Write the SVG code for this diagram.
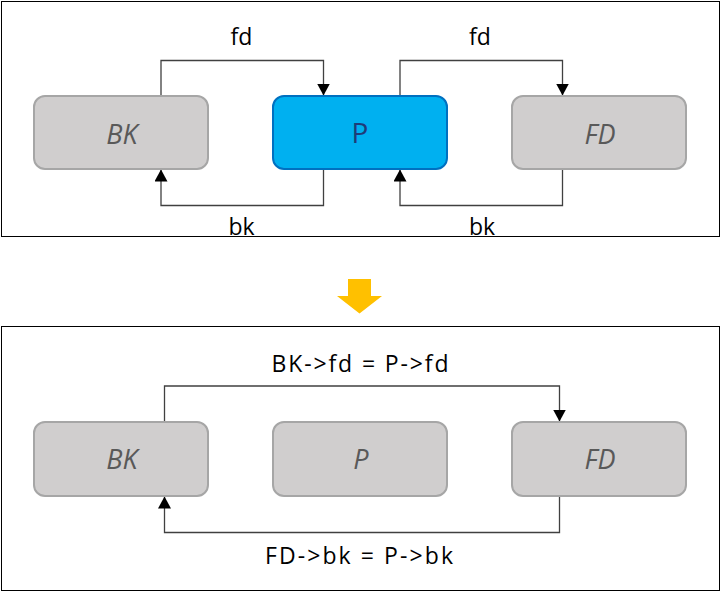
<svg xmlns="http://www.w3.org/2000/svg" width="722" height="592" viewBox="0 0 722 592">
<defs>
<style>
.frame{fill:#fff;stroke:#000;stroke-width:1}
.node{fill:#d0cece;stroke:#a6a6a6;stroke-width:2}
.pnode{fill:#00b0f0;stroke:#0070c0;stroke-width:2}
.nt{font-family:"Open Sans","Noto Sans",sans-serif;font-size:27px;font-style:italic;fill:#595959;text-anchor:middle}
.pt{font-family:"Open Sans","Noto Sans",sans-serif;font-size:28px;fill:#1f3b78;text-anchor:middle}
.lbl{font-family:"Open Sans","Noto Sans",sans-serif;font-size:23px;fill:#000;text-anchor:middle}
.conn{fill:none;stroke:#404040;stroke-width:1.3}
</style>
<marker id="ah" viewBox="0 0 12 13" markerWidth="12" markerHeight="13" refX="11.5" refY="6.5" orient="auto" markerUnits="userSpaceOnUse">
<path d="M0,0 L12,6.5 L0,13 Z" fill="#000"/>
</marker>
</defs>
<rect width="722" height="592" fill="#fff"/>
<rect class="frame" x="1.5" y="1.5" width="718" height="235"/>
<rect class="frame" x="1.5" y="326.5" width="718" height="264"/>
<g id="connectors">
<path class="conn" d="M161,96 V60.5 H323.5 V95" marker-end="url(#ah)"/>
<path class="conn" d="M323.5,169 V205.5 H161 V170" marker-end="url(#ah)"/>
<path class="conn" d="M400,96 V60.5 H562.5 V95" marker-end="url(#ah)"/>
<path class="conn" d="M562.5,169 V205.5 H400 V170" marker-end="url(#ah)"/>
<path class="conn" d="M164.5,422 V386 H559.5 V421" marker-end="url(#ah)"/>
<path class="conn" d="M559.5,496 V532.5 H164.5 V497" marker-end="url(#ah)"/>
</g>
<g id="labels">
<text class="lbl" x="241.5" y="45">fd</text>
<text class="lbl" x="241.5" y="235">bk</text>
<text class="lbl" x="480" y="45">fd</text>
<text class="lbl" x="482" y="235">bk</text>
<text class="lbl" x="360" y="372" textLength="177" lengthAdjust="spacing">BK-&gt;fd = P-&gt;fd</text>
<text class="lbl" x="359" y="564" textLength="188" lengthAdjust="spacing">FD-&gt;bk = P-&gt;bk</text>
</g>
<g id="top-BK"><rect class="node" x="34" y="96" width="174" height="73" rx="11"/><text class="nt" x="122" y="144">BK</text></g>
<g id="top-P"><rect class="pnode" x="273" y="96" width="174" height="73" rx="11"/><text class="pt" x="360" y="143">P</text></g>
<g id="top-FD"><rect class="node" x="512" y="96" width="174" height="73" rx="11"/><text class="nt" x="600" y="144">FD</text></g>
<g id="arrow"><path d="M348,279 H371 V296 H382 L359.5,313.5 L337,296 H348 Z" fill="#ffc000"/></g>
<g id="bot-BK"><rect class="node" x="34" y="422" width="174" height="74" rx="11"/><text class="nt" x="122" y="469">BK</text></g>
<g id="bot-P"><rect class="node" x="273" y="422" width="174" height="74" rx="11"/><text class="nt" x="361" y="469">P</text></g>
<g id="bot-FD"><rect class="node" x="512" y="422" width="174" height="74" rx="11"/><text class="nt" x="600" y="469">FD</text></g>
</svg>
